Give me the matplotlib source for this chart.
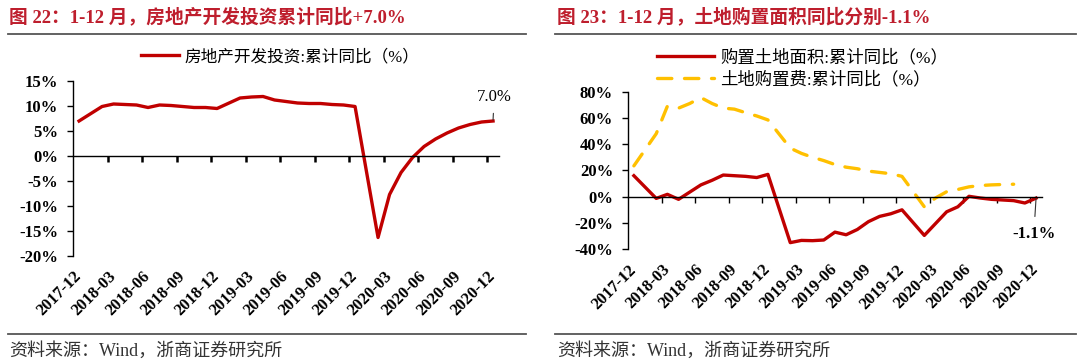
import numpy as np
import matplotlib
matplotlib.use("Agg")
import matplotlib.pyplot as plt
from matplotlib.lines import Line2D

plt.rcParams['font.family'] = ['Liberation Serif', 'Noto Sans CJK SC']

nan = np.nan
months = ['2017-12',
          '2018-01', '2018-02', '2018-03', '2018-04', '2018-05', '2018-06',
          '2018-07', '2018-08', '2018-09', '2018-10', '2018-11', '2018-12',
          '2019-01', '2019-02', '2019-03', '2019-04', '2019-05', '2019-06',
          '2019-07', '2019-08', '2019-09', '2019-10', '2019-11', '2019-12',
          '2020-01', '2020-02', '2020-03', '2020-04', '2020-05', '2020-06',
          '2020-07', '2020-08', '2020-09', '2020-10', '2020-11', '2020-12']

# 房地产开发投资:累计同比 (%)
invest = [7.0,
          nan, 9.9, 10.4, 10.3, 10.2, 9.7, 10.2, 10.1, 9.9, 9.7, 9.7, 9.5,
          nan, 11.6, 11.8, 11.9, 11.2, 10.9, 10.6, 10.5, 10.5, 10.3, 10.2, 9.9,
          nan, -16.3, -7.7, -3.3, -0.3, 1.9, 3.4, 4.6, 5.6, 6.3, 6.8, 7.0]

# 购置土地面积:累计同比 (%)
land_area = [16.0,
             nan, -1.3, 1.8, -2.0, 3.5, 9.0, 12.5, 16.5, 16.0, 15.5, 14.6, 17.0,
             nan, -35.0, -33.3, -33.5, -33.0, -27.0, -29.0, -25.0, -19.0, -15.0, -13.0, -10.0,
             nan, -29.5, -20.5, -11.5, -7.7, 0.3, -1.0, -2.0, -2.5, -3.0, -4.8, -1.1]

# 土地购置费:累计同比 (%)
land_cost = [23.5,
             nan, 48.0, 69.0, 67.5, 71.0, 75.5, 71.0, 67.5, 66.7, 64.0, 61.5, 58.5,
             nan, 37.0, 33.0, 30.0, 27.5, 24.5, 22.5, 21.3, 19.5, 18.5, 17.5, 15.5,
             nan, -7.7, -1.0, 3.8, 5.5, 7.5, 8.5, 9.0, 9.3, 9.5, nan, nan]

tick_labels = months[::3]

RED = '#C00000'
YELLOW = '#FFC000'
TITLE_RED = '#BE1E2D'
W, H = 1080, 364


def fx(px):
    return px / W


def fy(py):
    return 1 - py / H


def series(vals):
    v = np.array(vals, dtype=float)
    x = np.arange(len(v))
    ok = ~np.isnan(v)
    return x[ok], v[ok]


def style_axis(ax, ylim, yticks, tick_w):
    n = len(months)
    ax.set_xlim(-0.5, n - 0.5)
    ax.set_ylim(*ylim)
    ax.spines['top'].set_visible(False)
    ax.spines['right'].set_visible(False)
    ax.spines['bottom'].set_position(('data', 0))
    ax.spines['bottom'].set_linewidth(1.0)
    ax.spines['left'].set_linewidth(1.0)
    ax.set_xticks(np.arange(2.5, n - 1, 3))
    ax.tick_params(axis='x', direction='out', length=4, width=tick_w,
                   labelbottom=False)
    ax.set_yticks(yticks)
    ax.set_yticklabels(['%d%%' % t for t in yticks], fontsize=12,
                       fontweight='bold')
    ax.tick_params(axis='y', direction='out', length=4, width=1, pad=7)
    sec = ax.secondary_xaxis(0)
    sec.set_xticks(np.arange(0, n, 3))
    sec.set_xticklabels(tick_labels, rotation=45, ha='right', va='center',
                        rotation_mode='anchor', fontsize=12, fontweight='bold')
    sec.tick_params(length=0, pad=13)
    sec.spines['bottom'].set_visible(False)
    ax.patch.set_alpha(0)


fig = plt.figure(figsize=(10.8, 3.64), dpi=100)

# ---------- left panel ----------
ax1 = fig.add_axes([fx(73.3), fy(256), fx(498.8 - 73.3), (256 - 81) / H])
x, y = series(invest)
l1, = ax1.plot(x, y, color=RED, lw=2.4, solid_joinstyle='round',
               label='房地产开发投资:累计同比（%）')
style_axis(ax1, (-20, 15), list(range(-20, 16, 5)), 1.8)
ax1.annotate('%.1f%%' % invest[-1], xy=(x[-1], y[-1] + 0.2),
             xytext=(x[-1] + 0.1, y[-1] + 4.8), fontsize=12,
             ha='center', va='center',
             arrowprops=dict(arrowstyle='-', color='#333333', lw=0.8,
                             shrinkA=4, shrinkB=0))
fig.legend(handles=[l1], loc='center left', bbox_to_anchor=(fx(141), fy(57)),
           frameon=False, fontsize=12, handlelength=2.3, handletextpad=0.3,
           borderpad=0, borderaxespad=0)

# ---------- right panel ----------
ax2 = fig.add_axes([fx(628.3), fy(249.2), fx(1041.6 - 628.3), (249.2 - 91.7) / H])
x, y = series(land_area)
l2, = ax2.plot(x, y, color=RED, lw=2.4, solid_joinstyle='round',
               label='购置土地面积:累计同比（%）')
xc, yc = series(land_cost)
l3, = ax2.plot(xc, yc, color=YELLOW, lw=2.4, dashes=(4.3, 3.8),
               dash_capstyle='round', label='土地购置费:累计同比（%）')
style_axis(ax2, (-40, 80), list(range(-40, 81, 20)), 1.0)
ax2.annotate('%.1f%%' % land_area[-1], xy=(x[-1], y[-1] - 0.5),
             xytext=(x[-1] - 0.2, y[-1] - 27.5), fontsize=12,
             fontweight='bold', ha='center', va='center',
             arrowprops=dict(arrowstyle='-', color='#333333', lw=0.8,
                             shrinkA=5, shrinkB=0))
fig.legend(handles=[l2, l3], loc='center left',
           bbox_to_anchor=(fx(657), fy(68.5)), frameon=False, fontsize=12.5,
           handlelength=3.3, handletextpad=0.35, labelspacing=0.3,
           borderpad=0, borderaxespad=0)

# ---------- titles, rules, sources ----------
fig.text(fx(9), fy(17), '图 22：1-12 月，房地产开发投资累计同比+7.0%',
         color=TITLE_RED, fontsize=13.5, fontweight='bold', va='center')
fig.text(fx(557), fy(17), '图 23：1-12 月，土地购置面积同比分别-1.1%',
         color=TITLE_RED, fontsize=13.5, fontweight='bold', va='center')
for x0, x1 in [(8, 526), (555, 1076)]:
    for yy in (33.5, 333.5):
        fig.add_artist(Line2D([fx(x0), fx(x1)], [fy(yy), fy(yy)],
                              color='#555555', lw=1.3))
for x0 in (9, 557):
    fig.text(fx(x0), fy(351), '资料来源：Wind，浙商证券研究所',
             color='#333333', fontsize=13, va='center')

fig.savefig('out.png', dpi=100)
